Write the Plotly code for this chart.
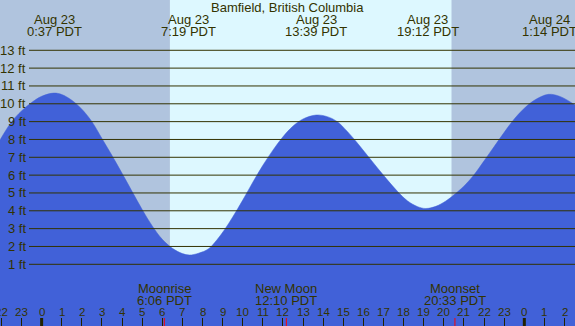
import plotly.graph_objects as go

# ---- data ----
tide_hours = [-2.07, -1.5, -1.0, -0.5, 0.0, 0.6, 1.0, 1.5, 2.0, 2.5, 3.0, 3.5, 4.0, 4.5,
              5.0, 5.5, 6.0, 6.5, 7.0, 7.35, 7.8, 8.3, 8.7, 9.1, 9.5, 10.0, 10.5, 11.0,
              11.5, 12.0, 12.5, 13.0, 13.65, 14.2, 14.7, 15.2, 15.7, 16.2, 16.7, 17.2,
              17.7, 18.2, 18.7, 19.1, 19.6, 20.1, 20.6, 21.1, 21.5, 22.0, 22.5, 23.0,
              23.5, 24.0, 24.5, 25.2, 25.8, 26.52]
tide_ft = [7.97, 8.98, 9.6, 10.07, 10.42, 10.6, 10.52, 10.2, 9.7, 9.0, 8.05, 7.1, 6.1, 5.08,
           4.07, 3.15, 2.4, 1.9, 1.6, 1.52, 1.62, 1.87, 2.35, 2.95, 3.65, 4.6, 5.6, 6.55,
           7.4, 8.15, 8.75, 9.15, 9.37, 9.28, 9.0, 8.45, 7.8, 7.1, 6.4, 5.72,
           5.08, 4.55, 4.23, 4.13, 4.25, 4.55, 4.98, 5.5, 6.02, 6.8, 7.6, 8.4,
           9.15, 9.75, 10.2, 10.53, 10.4, 9.93]

extreme_hours = [0.617, 7.317, 13.65, 19.2, 25.233]
extreme_dates = ["Aug 23", "Aug 23", "Aug 23", "Aug 23", "Aug 24"]
extreme_times = ["0:37 PDT", "7:19 PDT", "13:39 PDT", "19:12 PDT", "1:14 PDT"]

sunrise_h = 6.38
sunset_h = 20.38

moon_hours = [6.1, 12.167, 20.55]
moon_names = ["Moonrise", "New Moon", "Moonset"]
moon_times = ["6:06 PDT", "12:10 PDT", "20:33 PDT"]

hour_ticks = list(range(-2, 27))
hour_labels = [str(h % 24) for h in hour_ticks]
midnights = [0, 24]

ft_levels = list(range(1, 14))
ft_labels = [f"{v} ft" for v in ft_levels]

title = "Bamfield, British Columbia"

# ---- styling ----
W, H = 575, 326
XR = [-2.07, 26.52]
YR = [-2.46, 15.82]
NIGHT = "#B0C4DE"
DAY = "#DDF8FF"
WATER = "#4161D8"
INK = "#333300"
FONT = "Liberation Sans"


def py(p):
    return 1 - p / H


fig = go.Figure()
fig.add_trace(go.Scatter(x=[XR[0], XR[1]], y=[YR[0], YR[0]], mode="lines",
                         line=dict(width=0), hoverinfo="skip", showlegend=False))
fig.add_trace(go.Scatter(x=tide_hours, y=tide_ft, mode="lines", fill="tonexty",
                         fillcolor=WATER,
                         line=dict(color=WATER, width=0.5, shape="spline", smoothing=1.0),
                         hoverinfo="skip", showlegend=False))

shapes = []
shapes.append(dict(type="rect", xref="x", yref="paper", x0=XR[0], x1=sunrise_h, y0=0, y1=1,
                   fillcolor=NIGHT, line=dict(width=0), layer="below"))
shapes.append(dict(type="rect", xref="x", yref="paper", x0=sunrise_h, x1=sunset_h, y0=0, y1=1,
                   fillcolor=DAY, line=dict(width=0), layer="below"))
shapes.append(dict(type="rect", xref="x", yref="paper", x0=sunset_h, x1=XR[1], y0=0, y1=1,
                   fillcolor=NIGHT, line=dict(width=0), layer="below"))
for v in ft_levels:
    shapes.append(dict(type="line", xref="paper", yref="y", x0=29 / W, x1=1, y0=v, y1=v,
                       line=dict(color=INK, width=1), layer="above"))
for m in midnights:
    shapes.append(dict(type="line", xref="x", yref="paper", x0=m, x1=m, y0=0, y1=8 / H,
                       line=dict(color="#222200", width=3), layer="above"))
for m in moon_hours:
    shapes.append(dict(type="line", xref="x", yref="paper", x0=m, x1=m, y0=0, y1=8 / H,
                       line=dict(color="red", width=1), layer="above"))

ann = []


def txt(t, x, y, xref="x", yref="paper", size=13, xanchor="center"):
    ann.append(dict(text=t, xref=xref, yref=yref, x=x, y=y, showarrow=False,
                    font=dict(family=FONT, size=size, color=INK), xanchor=xanchor,
                    yanchor="middle"))


txt(title, 287 / W, py(7.5), xref="paper")
for h, d, t in zip(extreme_hours, extreme_dates, extreme_times):
    txt(d, h, py(19.5))
    txt(t, h, py(32))
for h, n, t in zip(moon_hours, moon_names, moon_times):
    txt(n, h, py(288))
    txt(t, h, py(300))
for h, t in zip(hour_ticks, hour_labels):
    txt(t, h, py(312), size=11.5)
for v, t in zip(ft_levels, ft_labels):
    txt(t, 27.5 / W, v, xref="paper", yref="y", xanchor="right")

fig.update_layout(
    width=W, height=H, margin=dict(l=0, r=0, t=0, b=0),
    paper_bgcolor=WATER, plot_bgcolor=DAY,
    shapes=shapes, annotations=ann, showlegend=False,
    xaxis=dict(range=XR, showgrid=False, zeroline=False, showline=False,
               tickvals=hour_ticks, ticks="inside", ticklen=8, tickcolor="#222200",
               tickwidth=1, showticklabels=False, fixedrange=True),
    yaxis=dict(range=YR, showgrid=False, zeroline=False, showline=False,
               showticklabels=False, ticks="", fixedrange=True),
)

fig.write_html("out.html", config={"displayModeBar": False},
               post_script="document.body.style.margin='0px';document.body.style.overflow='hidden';")
